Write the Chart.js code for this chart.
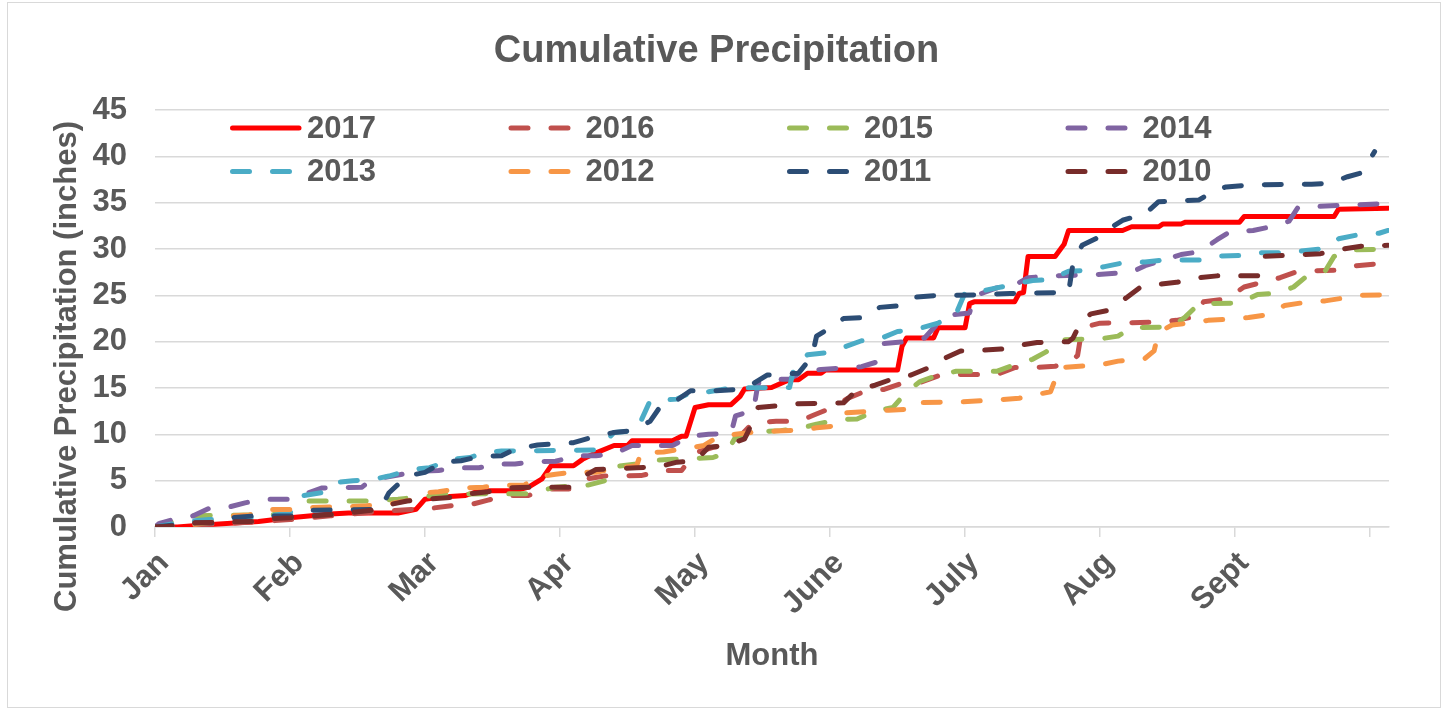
<!DOCTYPE html>
<html>
<head>
<meta charset="utf-8">
<script src="https://cdn.jsdelivr.net/npm/chart.js@4.4.1/dist/chart.umd.min.js"></script>
<style>
  html, body { margin: 0; padding: 0; background: #fff; }
  #wrap { position: relative; width: 1453px; height: 709px; }
  #frame { position: absolute; left: 7px; top: 2px; width: 1432px; height: 704px; border: 1.5px solid #d9d9d9; pointer-events: none; }
</style>
</head>
<body>
<div id="wrap">
  <canvas id="precip-chart" width="1453" height="709"></canvas>
  <div id="frame"></div>
</div>
<script>
// x values are days since Jan 1 (30 days per month on the axis)
var tickDays = [0, 30, 60, 90, 120, 150, 180, 210, 240, 270];
var monthLabels = ["Jan", "Feb", "Mar", "Apr", "May", "June", "July", "Aug", "Sept", ""];

var days2017 = [0, 5, 10, 23, 30, 39, 43, 54, 58, 60, 63, 69, 72, 80, 83, 86, 88, 93, 95, 98, 102, 105, 106, 115, 117, 118, 120, 123, 128, 130, 131, 137, 141, 143, 145, 148, 149, 165, 166, 167, 173, 174, 180, 181, 182, 191, 192, 193, 194, 200, 202, 203, 215, 217, 223, 224, 228, 229, 241, 242, 262, 263, 274];
var precip2017 = [0, 0, 0.2, 0.6, 1.0, 1.4, 1.5, 1.5, 1.9, 3.0, 3.2, 3.4, 3.9, 3.9, 4.3, 5.2, 6.6, 6.6, 7.3, 8.0, 8.8, 8.8, 9.3, 9.3, 9.8, 9.8, 12.9, 13.2, 13.2, 14.1, 14.9, 15.05, 15.9, 15.9, 16.6, 16.6, 16.95, 16.95, 19.5, 20.4, 20.4, 21.5, 21.5, 24.1, 24.3, 24.3, 25.2, 25.3, 29.2, 29.2, 30.5, 32, 32, 32.4, 32.4, 32.7, 32.7, 32.9, 32.9, 33.5, 33.5, 34.3, 34.4];

var days2016 = [0, 8, 13, 21, 30, 39, 48, 57, 61, 66, 70, 74, 78, 83, 87, 92, 96, 100, 108, 113, 117, 120, 124, 127, 130, 133, 138, 143, 146, 151, 154, 158, 162, 166, 170, 174, 178, 187, 191, 195, 200, 203, 205, 206, 210, 223, 227, 231, 233, 238, 242, 246, 250, 254, 262, 267, 274];
var precip2016 = [0, 0.2, 0.3, 0.5, 0.8, 1.2, 1.6, 1.9, 2.0, 2.3, 2.4, 2.9, 3.4, 3.4, 4.1, 4.1, 5.2, 5.5, 5.55, 6.1, 6.1, 8.0, 8.6, 8.7, 9.8, 11.3, 11.4, 11.4, 12.0, 13.0, 13.9, 14.7, 14.85, 15.5, 15.6, 16.3, 16.45, 16.45, 17.2, 17.2, 17.35, 17.7, 18.5, 21.5, 22.0, 22.1, 22.3, 22.7, 24.3, 24.6, 25.9, 26.4, 26.9, 27.6, 27.7, 28.2, 28.5];

var days2015 = [0, 8, 21, 30, 34, 47, 54, 60, 64, 74, 83, 89, 96, 100, 102, 107, 111, 115, 124, 127, 129, 135, 139, 143, 147, 152, 156, 160, 164, 167, 170, 174, 178, 187, 191, 195, 198, 201, 210, 214, 217, 226, 229, 232, 241, 245, 249, 253, 256, 260, 262, 266, 274];
var precip2015 = [0, 1.2, 1.3, 1.4, 2.8, 2.8, 3.0, 3.3, 3.5, 3.6, 3.6, 4.3, 4.5, 5.0, 6.5, 6.8, 7.2, 7.3, 7.5, 8.0, 9.7, 10.3, 10.4, 10.6, 11.1, 11.6, 11.65, 12.5, 12.9, 14.6, 15.7, 16.4, 16.8, 16.8, 17.5, 18.1, 18.9, 20.2, 20.3, 20.6, 21.5, 21.6, 22.7, 24.1, 24.15, 25.1, 25.2, 25.9, 27.1, 27.6, 29.2, 29.9, 30.0];

var days2014 = [0, 1, 4, 8, 12, 16, 20, 24, 30, 33, 37, 46, 48, 54, 58, 63, 67, 72, 76, 80, 85, 89, 94, 98, 102, 106, 115, 119, 123, 128, 129, 133, 134, 136, 141, 144, 148, 157, 161, 162, 167, 171, 174, 177, 181, 182, 187, 191, 194, 199, 208, 217, 220, 224, 228, 232, 236, 239, 244, 248, 252, 254, 263, 274];
var precip2014 = [0, 0.4, 0.8, 1.1, 2.0, 2.1, 2.6, 3.0, 3.0, 3.5, 4.2, 4.3, 5.1, 5.6, 6.0, 6.1, 6.4, 6.4, 6.8, 6.8, 7.05, 7.1, 7.7, 7.7, 7.9, 8.8, 8.8, 9.8, 10.0, 10.1, 12.0, 12.6, 15.5, 15.9, 15.95, 16.8, 17.0, 17.3, 17.9, 19.8, 20.0, 20.4, 22.0, 22.9, 23.1, 24.9, 25.8, 26.1, 26.9, 27.1, 27.2, 27.5, 28.2, 28.8, 29.4, 29.7, 31.0, 31.9, 32.0, 32.4, 33.0, 34.5, 34.7, 34.9];

var days2013 = [0, 7, 12, 17, 24, 30, 32, 37, 40, 44, 48, 52, 57, 61, 66, 70, 73, 77, 98, 100, 102, 107, 110, 116, 119, 123, 128, 141, 142, 145, 149, 153, 157, 161, 165, 169, 174, 177, 178, 180, 183, 187, 190, 195, 199, 203, 207, 211, 215, 220, 224, 233, 237, 242, 246, 251, 259, 263, 267, 272, 274];
var precip2013 = [0, 0.6, 0.8, 1.0, 1.1, 1.5, 3.3, 3.7, 4.8, 5.0, 5.1, 5.5, 6.2, 6.4, 7.3, 7.5, 8.0, 8.2, 8.3, 9.2, 10.2, 10.4, 13.6, 13.8, 14.5, 14.6, 15.0, 15.05, 17.2, 18.6, 18.8, 19.4, 20.1, 20.3, 21.1, 21.3, 22.0, 22.8, 23.0, 25.3, 25.4, 25.8, 26.1, 26.6, 26.7, 27.6, 27.7, 28.1, 28.5, 28.6, 28.8, 28.8, 29.25, 29.3, 29.6, 29.6, 30.0, 31.1, 31.5, 31.7, 32.0];

var days2012 = [0, 6, 9, 14, 17, 21, 25, 30, 34, 43, 47, 52, 58, 60, 63, 68, 73, 77, 82, 85, 89, 93, 98, 102, 107, 108, 113, 117, 122, 125, 129, 134, 138, 143, 147, 151, 153, 163, 167, 168, 179, 188, 192, 197, 199, 201, 210, 214, 220, 222, 223, 226, 230, 234, 238, 243, 247, 251, 255, 260, 264, 268, 274];
var precip2012 = [0, 0.1, 0.3, 0.6, 1.2, 1.3, 1.9, 1.9, 2.1, 2.2, 2.3, 2.5, 3.0, 3.7, 3.8, 4.2, 4.3, 4.5, 4.5, 5.4, 5.7, 5.9, 5.9, 6.3, 6.6, 8.0, 8.1, 8.4, 8.8, 9.7, 10.0, 10.3, 10.35, 10.45, 10.7, 10.9, 12.3, 12.6, 12.7, 13.4, 13.5, 13.75, 13.9, 14.4, 14.6, 17.2, 17.5, 17.9, 18.2, 19.0, 21.0, 21.8, 22.0, 22.3, 22.4, 22.6, 22.9, 23.9, 24.2, 24.4, 24.7, 25.0, 25.05];

var days2011 = [0, 4, 9, 13, 17, 22, 31, 35, 48, 50, 52, 56, 60, 64, 68, 72, 77, 80, 85, 93, 98, 102, 106, 110, 112, 116, 119, 124, 130, 132, 136, 140, 143, 146, 147, 150, 153, 158, 161, 166, 169, 173, 182, 190, 203, 204, 206, 209, 212, 215, 220, 223, 232, 235, 238, 243, 257, 261, 265, 268, 271];
var precip2011 = [0, 0.2, 0.45, 0.45, 1.0, 1.2, 1.2, 1.8, 1.9, 1.9, 3.7, 5.5, 5.9, 7.0, 7.15, 7.6, 7.7, 8.4, 8.85, 9.1, 9.8, 10.2, 10.4, 11.4, 12.8, 13.7, 14.7, 14.7, 14.85, 15.2, 16.4, 16.5, 16.6, 18.4, 20.6, 21.5, 22.5, 22.6, 23.7, 23.9, 24.8, 24.95, 25.05, 25.2, 25.3, 28.5, 30.4, 31.1, 32.2, 33.1, 33.8, 35.1, 35.3, 36.2, 36.7, 36.9, 37.0, 37.1, 37.8, 38.2, 40.5];

var days2010 = [0, 4, 8, 13, 17, 22, 26, 30, 35, 41, 48, 52, 56, 60, 66, 70, 74, 78, 83, 92, 95, 98, 107, 112, 116, 120, 123, 127, 131, 132, 134, 139, 143, 153, 156, 160, 164, 168, 172, 175, 179, 183, 188, 192, 196, 203, 204, 206, 208, 212, 216, 219, 223, 227, 232, 236, 245, 246, 251, 259, 264, 268, 274];
var precip2010 = [0, 0.1, 0.45, 0.5, 0.55, 0.6, 0.9, 1.0, 1.2, 1.4, 1.8, 2.4, 2.8, 3.0, 3.2, 3.6, 3.8, 4.2, 4.3, 4.3, 5.4, 6.2, 6.4, 6.5, 7.0, 7.1, 8.6, 8.8, 9.5, 10.5, 12.9, 13.1, 13.3, 13.4, 14.8, 15.3, 16.0, 16.4, 17.2, 18.1, 19.0, 19.05, 19.2, 19.6, 19.9, 20.0, 20.4, 22.4, 23.0, 23.4, 24.8, 25.9, 26.2, 26.4, 26.9, 27.1, 27.1, 29.2, 29.3, 29.5, 30.0, 30.3, 30.4];

var years = ["2017", "2016", "2015", "2014", "2013", "2012", "2011", "2010"];
var seriesDays = [days2017, days2016, days2015, days2014, days2013, days2012, days2011, days2010];
var seriesPrecip = [precip2017, precip2016, precip2015, precip2014, precip2013, precip2012, precip2011, precip2010];
var lineColors = ["#FF0000", "#C0504D", "#9BBB59", "#8064A2", "#4BACC6", "#F79646", "#2C4D75", "#772C2A"];

var textColor = "#595959",
    gridColor = "#d9d9d9",
    fontFamily = "'Liberation Sans', Arial, Helvetica, sans-serif";

Chart.defaults.font.family = fontFamily;
Chart.defaults.color = textColor;

var datasets = years.map(function(yr, i) {
    return {
        label: yr,
        data: seriesDays[i].map(function(d, j) { return { x: d, y: seriesPrecip[i][j] }; }),
        borderColor: lineColors[i],
        backgroundColor: lineColors[i],
        borderWidth: 5,
        borderDash: i === 0 ? [] : [17, 23],
        borderCapStyle: "round",
        borderJoinStyle: "round",
        pointRadius: 0,
        fill: false,
        tension: 0,
        order: years.length - i
    };
});

// legend sits inside the plot in 2 rows x 4 columns, plus the offset y-axis title
var insideLegend = {
    id: "insideLegend",
    afterDraw: function(chart) {
        var ctx = chart.ctx, area = chart.chartArea;
        ctx.save();
        ctx.font = "bold 31px " + fontFamily;
        ctx.textBaseline = "middle";
        ctx.textAlign = "left";
        chart.data.datasets.forEach(function(ds, i) {
            var col = i % 4, row = Math.floor(i / 4);
            var x0 = area.left + 75 + col * 278.5;
            var y = area.top + 18 + row * 43.5;
            ctx.strokeStyle = ds.borderColor;
            ctx.lineWidth = 5;
            ctx.lineCap = "round";
            ctx.setLineDash(ds.borderDash);
            ctx.beginPath();
            ctx.moveTo(x0 + 2.5, y);
            ctx.lineTo(x0 + (ds.borderDash.length ? 60 : 69), y);
            ctx.stroke();
            ctx.setLineDash([]);
            ctx.fillStyle = textColor;
            ctx.fillText(ds.label, x0 + 77, y + 1);
        });
        ctx.translate(area.left - 88, (area.top + area.bottom) / 2 + 48);
        ctx.rotate(-Math.PI / 2);
        ctx.textAlign = "center";
        ctx.fillText("Cumulative Precipitation (inches)", 0, 0);
        ctx.restore();
    }
};

new Chart(document.getElementById("precip-chart"), {
    type: "line",
    data: { datasets: datasets },
    options: {
        responsive: false,
        animation: false,
        layout: { padding: { left: 44, right: 64, top: 0, bottom: 31 } },
        plugins: {
            legend: { display: false },
            tooltip: { enabled: false },
            title: {
                display: true,
                text: "Cumulative Precipitation",
                color: textColor,
                font: { size: 38, weight: "bold" },
                padding: { top: 29, bottom: 35.4 }
            }
        },
        scales: {
            x: {
                type: "linear",
                min: 0,
                max: 274.2,
                afterBuildTicks: function(scale) {
                    scale.ticks = tickDays.map(function(v) { return { value: v }; });
                },
                afterFit: function(scale) { scale.height = 151; },
                ticks: {
                    autoSkip: false,
                    minRotation: 45,
                    maxRotation: 45,
                    padding: 8,
                    labelOffset: 9,
                    color: textColor,
                    font: { size: 31, weight: "bold" },
                    callback: function(value, index) { return monthLabels[index]; }
                },
                grid: { drawOnChartArea: false, drawTicks: true, tickLength: 10, color: gridColor, lineWidth: 1.5 },
                border: { display: true, color: gridColor, width: 1.5 },
                title: {
                    display: true,
                    text: "Month",
                    color: textColor,
                    font: { size: 31, weight: "bold" },
                    padding: { top: 4, bottom: 3 }
                }
            },
            y: {
                min: 0,
                max: 45,
                afterFit: function(scale) { scale.width = 111; },
                ticks: { stepSize: 5, padding: 28, color: textColor, font: { size: 31, weight: "bold" } },
                grid: { color: gridColor, lineWidth: 1.5, drawTicks: false },
                border: { display: false }
            }
        }
    },
    plugins: [insideLegend]
});
</script>
</body>
</html>
